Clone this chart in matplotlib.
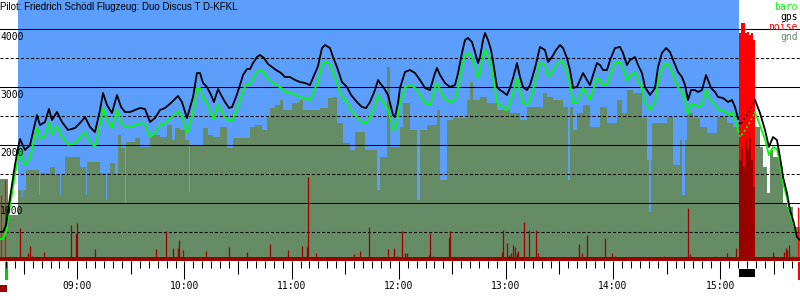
import matplotlib
matplotlib.use("Agg")
import matplotlib.pyplot as plt
import numpy as np
from matplotlib.patches import Rectangle
from matplotlib.ticker import FixedLocator, MultipleLocator, FuncFormatter

# ---------------- data (time = minutes after 08:00, altitude in m) ----------------
gps_t = [16.7, 18.4, 20.1, 21.7, 23.4, 25.1, 26.8, 27.9, 30.7, 33.5, 37.4, 39.1, 41.9, 44.1, 45.8,
         48.6, 51.4, 54.8, 58.7, 61.5, 64.3, 67.1, 69.9, 72.7, 74.4, 76.6, 79.4, 82.2, 84.5, 86.7,
         89.5, 92.3, 95.1, 97.9, 100.7, 103.5, 106.3, 109.1, 113.0, 116.4, 118.6, 121.4, 124.8, 127.0,
         128.7, 130.4, 132.6, 134.9, 136.5, 138.8, 140.5, 142.7, 145.0, 146.6, 148.9, 151.1, 152.8,
         155.0, 156.7, 158.4, 160.6, 162.3, 164.5, 166.8, 169.0, 171.3, 174.1, 176.3, 179.1, 181.9,
         184.7, 187.5, 190.3, 193.1, 194.8, 197.0, 198.7, 201.5, 203.2, 205.4, 208.2, 211.0, 213.3,
         216.6, 219.4, 221.7, 223.9, 226.7, 228.4, 229.5, 231.7, 234.0, 235.7, 236.8, 237.9, 239.6,
         240.7, 243.5, 246.3, 249.1, 251.9, 254.7, 257.5, 260.3, 261.4, 263.1, 265.9, 268.7, 271.5,
         273.2, 275.4, 277.1, 278.8, 281.0, 282.7, 284.4, 285.5, 287.2, 288.3, 290.0, 291.7, 293.3,
         295.0, 296.7, 298.4, 300.6, 302.3, 304.0, 306.2, 307.9, 309.6, 311.8, 313.5, 316.3, 319.1,
         321.9, 323.6, 325.8, 328.1, 330.3, 332.0, 334.2, 335.9, 337.6, 339.8, 341.5, 343.2, 345.4,
         347.1, 348.8, 351.0, 352.7, 354.4, 356.6, 358.3, 361.1, 363.9, 365.6, 367.8, 369.5, 372.3,
         374.0, 376.2, 377.9, 380.7, 383.5, 385.2, 387.4, 389.7, 391.9, 394.1, 396.4, 398.6, 400.3,
         402.0, 403.7, 405.9, 407.6, 409.8, 412.1, 413.2, 414.9, 417.1, 418.8, 421.6, 424.4, 426.6,
         428.3, 430.0, 431.1, 433.9, 436.7, 439.5, 442.3, 445.1, 447.3, 449.6, 451.8, 453.5, 455.2,
         457.4, 459.1, 461.3, 463.0, 464.7]
gps_alt = [505, 505, 626, 971, 1315, 1660, 1953, 2108, 1919, 2005, 2522, 2350, 2402, 2626, 2436,
           2574, 2402, 2264, 2298, 2384, 2488, 2315, 2229, 2608, 2902, 2695, 2557, 2867, 2660, 2574,
           2574, 2608, 2643, 2626, 2402, 2470, 2608, 2643, 2746, 2850, 2746, 2470, 2833, 3246,
           3246, 3074, 3005, 2867, 2746, 2970, 2867, 2746, 2643, 2660, 2833, 3039, 3212,
           3315, 3315, 3419, 3522, 3557, 3505, 3401, 3350, 3298, 3246, 3177, 3177, 3126,
           3091, 3074, 3039, 3246, 3367, 3677, 3729, 3677, 3522, 3350, 3091, 3005, 2867,
           2746, 2660, 2643, 2746, 2953, 3126, 3074, 2988, 2867, 2660, 2522, 2488, 2729,
           2988, 3264, 3298, 3246, 3126, 2988, 2953, 3246, 3332, 3212, 3074, 3005, 3039,
           3246, 3591, 3815, 3850, 3781, 3608, 3419, 3522, 3815, 3936, 3815, 3643, 3350,
           3005, 2953, 2919, 2867, 2988, 3160, 3419, 3177, 3005, 2953, 3039, 3332, 3695,
           3643, 3436, 3522, 3643, 3729, 3677, 3505, 3298, 2988, 3005, 3126, 3246, 3126,
           3039, 3212, 3419, 3384, 3298, 3298, 3470, 3677, 3695, 3591, 3384, 3470, 3522,
           3384, 3246, 3005, 2867, 2988, 3350, 3591, 3677, 3608, 3436, 3264, 3177, 3039,
           2781, 2953, 2953, 2919, 2953, 3212, 3126, 2988, 2919, 2833, 2815, 2746, 2781,
           2660, 2470, 2350, 2470, 2608, 2781, 2557, 2264, 1971, 2143, 2091, 1798, 1453,
           1177, 884, 660, 419, 367]
baro_alt = [385, 385, 500, 830, 1160, 1490, 1770, 1920, 1660, 1780, 2310, 2110, 2160, 2400, 2190,
            2330, 2150, 2010, 2040, 2130, 2230, 2060, 1970, 2350, 2640, 2430, 2300, 2610, 2400, 2310,
            2310, 2350, 2380, 2370, 2140, 2210, 2350, 2380, 2490, 2590, 2490, 2210, 2570, 2990,
            2990, 2810, 2740, 2540, 2450, 2700, 2600, 2480, 2420, 2420, 2570, 2780, 2950,
            3060, 3060, 3160, 3270, 3300, 3250, 3150, 3090, 3040, 2990, 2920, 2920, 2870,
            2830, 2810, 2780, 2980, 3100, 3400, 3440, 3400, 3250, 3080, 2830, 2740, 2600,
            2480, 2400, 2380, 2490, 2690, 2870, 2810, 2730, 2610, 2410, 2280, 2260, 2470,
            2730, 3000, 3040, 2990, 2870, 2730, 2690, 2990, 3070, 2950, 2810, 2740, 2780,
            2990, 3330, 3550, 3590, 3520, 3350, 3160, 3260, 3540, 3650, 3540, 3380, 3090,
            2740, 2690, 2660, 2600, 2730, 2900, 3160, 2920, 2740, 2690, 2780, 3070, 3430,
            3380, 3180, 3260, 3380, 3460, 3420, 3250, 3040, 2730, 2740, 2870, 2990, 2870,
            2780, 2950, 3160, 3120, 3040, 3040, 3210, 3420, 3430, 3330, 3120, 3210, 3260,
            3120, 2990, 2740, 2610, 2730, 3090, 3330, 3420, 3350, 3180, 3000, 2920, 2780,
            2540, 2700, 2700, 2660, 2700, 2960, 2870, 2760, 2700, 2620, 2600, 2530, 2570,
            2440, 2250, 2140, 2260, 2400, 2570, 2340, 2100, 1830, 1970, 1940, 1670, 1350,
            1100, 830, 620, 419, 367]

gnd_t = [16.7, 21.2, 26.8, 29.0, 29.6, 31.3, 38.5, 39.1, 44.7, 47.5, 50.3, 50.9, 53.1, 61.5, 64.9,
         65.4, 72.7, 76.1, 76.7, 78.3, 81.1, 82.8, 84.5, 86.7, 87.3, 92.3, 95.1, 100.7, 106.3, 110.2,
         113.0, 114.7, 117.5, 120.3, 122.5, 123.1, 130.4, 133.2, 136.0, 139.9, 143.8, 147.2, 156.7,
         159.5, 163.4, 166.2, 167.9, 170.7, 173.5, 175.2, 180.2, 183.0, 184.7, 186.4, 195.9, 200.4,
         203.2, 205.4, 208.8, 212.7, 215.5, 221.1, 227.8, 229.5, 233.4, 235.1, 240.7, 242.4, 246.3,
         250.2, 251.9, 255.8, 261.4, 263.1, 267.0, 270.4, 278.2, 279.9, 281.6, 285.5, 289.4, 295.0,
         302.3, 307.9, 311.8, 320.8, 323.0, 326.4, 332.0, 334.8, 335.9, 337.6, 339.8, 343.2, 347.1,
         352.7, 356.6, 362.2, 365.0, 367.8, 371.2, 376.2, 379.0, 380.1, 381.3, 381.8, 390.2, 393.6,
         397.5, 398.6, 400.3, 401.4, 404.8, 408.7, 412.6, 418.2, 423.8, 427.2, 430.5, 439.5,
         442.3, 444.0, 446.2, 447.9, 449.6, 453.5, 455.2, 457.4, 460.8, 464.7]
gnd_alt = [1420, 798, 1229, 1100, 1229, 1574, 1150, 1522, 1626, 1488, 1150, 1488, 1798, 1626, 1150,
           1712, 1522, 1050, 1522, 1695, 1522, 2177, 1953, 1000, 2057, 2126, 1971, 2177, 2143, 2350,
           2091, 2298, 2264, 2091, 1200, 2005, 2298, 2177, 2143, 2315, 1953, 2126, 2315,
           2350, 2264, 2488, 2643, 2695, 2781, 2608, 2729, 2746, 2781, 2608, 2643, 2815,
           2833, 2384, 2039, 1919, 2229, 1919, 1229, 1798, 3350, 1971, 2315, 2729, 2264,
           1057, 2264, 2350, 2608, 1402, 2436, 2470, 2781, 3091, 2781, 2833, 2729, 2608,
           2557, 2436, 2660, 2902, 2833, 2781, 2660, 1402, 2660, 2264, 2557, 2695, 2315,
           2660, 2384, 2781, 2557, 2953, 2902, 2470, 1746, 850, 1746, 2384, 2488, 1660,
           2091, 1143, 2091, 2557, 2470, 2315, 2212, 2488, 2384, 2315, 2264, 2315,
           1971, 1626, 1177, 1919, 1798, 1626, 1005, 936, 591, 591]

# engine noise level (dark red) - baseline and spikes
enl_base = 70
enl_t = [27.9, 32.4, 33.5, 34.6, 41.3, 56.5, 59.3, 59.8, 69.9, 104.1, 109.7, 113.6, 116.4, 117.0,
         119.2, 132.0, 145.0, 155.0, 168.0, 178.0, 185.8, 188.6, 189.2, 193.7, 214.9, 218.3, 223.3,
         234.0, 237.3, 239.0, 241.8, 243.5, 244.6, 257.0, 257.5, 259.2, 268.1, 268.7, 297.8, 298.4,
         300.6, 301.7, 302.9, 304.0, 305.1, 306.2, 306.8, 310.1, 312.9, 316.9, 318.0, 340.9, 342.6,
         345.4, 355.5, 359.4, 361.1, 388.5, 402.0, 403.1, 417.1, 423.8, 428.9, 449.6, 450.1, 455.7,
         456.9, 457.4, 458.5, 460.2]
enl_v = [574, 143, 264, 91, 160, 626, 488, 660, 212, 212, 522, 229, 229, 367,
         195, 180, 250, 160, 300, 200, 264, 246, 1453, 143, 126, 178, 591,
         212, 229, 91, 522, 143, 143, 109, 488, 91, 419, 522, 160, 540,
         315, 109, 143, 281, 246, 143, 178, 680, 540, 540, 143, 298, 143,
         453, 402, 143, 91, 91, 919, 126, 91, 143, 229, 160, 91, 160,
         229, 195, 281, 91]

# engine run (noise bars)
eng_t = [430.5, 431.7, 432.8, 433.9, 435.0, 436.1, 437.3, 438.4]
eng_noise = [3936, 4108, 4108, 3936, 3953, 3901, 3936, 3815]
eng_enl = [1746, 1971, 1626, 2091, 1919, 2143, 1746, 1281]
noise_spike_t = [17.3, 19.5, 463.6]
noise_spike_v = [1143, 1400, 936]

t_min, t_max = 16.7, 464.7
sky_start, sky_end = 26.8, 430.5
takeoff_t, landing_t = 19.5, 463.6
engine_start, engine_end = 430.5, 439.5

SKY = '#5c9efc'
GND = '#658c65'
DARK = '#9b0000'
MONO = 'DejaVu Sans Mono'

plt.rcParams['font.family'] = MONO

fig = plt.figure(figsize=(8, 3), dpi=100)
ax = fig.add_axes([0, 38.7 / 300, 1, 261.3 / 300])
ax.set_xlim(t_min, t_max)
ax.set_ylim(0, 4505)

ax.axvspan(sky_start, sky_end, color=SKY, lw=0, zorder=0)
ax.fill_between(gnd_t, gnd_alt, step='post', color=GND, lw=0, zorder=1)

ax.bar(eng_t, eng_noise, width=1.15, align='edge', color='#ff0000', lw=0, zorder=2)
ax.vlines(noise_spike_t, 0, noise_spike_v, color='#ff0000', lw=0.9, zorder=2)
ax.fill_between([t_min, t_max], 0, enl_base, color=DARK, lw=0, zorder=2.2)
ax.vlines(enl_t, 0, enl_v, color=DARK, lw=0.9, zorder=2.2)
ax.bar(eng_t, eng_enl, width=1.15, align='edge', color=DARK, lw=0, zorder=2.2)

# lines: solid outside the engine run, dotted inside
gt = np.array(gps_t)
inside = (gt >= engine_start - 0.6) & (gt <= engine_end)
outside_a = gt <= engine_start - 0.4
outside_b = gt >= engine_end
for alt, col, z in [(baro_alt, '#00ff00', 3), (gps_alt, '#000000', 3.1)]:
    a = np.array(alt, dtype=float)
    ax.plot(gt[outside_a], a[outside_a], color=col, lw=1.3, zorder=z)
    ax.plot(gt[outside_b], a[outside_b], color=col, lw=1.3, zorder=z)
    ax.plot(gt[inside], a[inside], color=col, lw=1.3, ls=(0, (1, 1.5)), zorder=z)

# grid
ax.set_yticks([1000, 2000, 3000, 4000])
ax.set_yticks([500, 1500, 2500, 3500], minor=True)
ax.grid(True, axis='y', which='major', color='black', lw=0.75, ls='-')
ax.grid(True, axis='y', which='minor', color='black', lw=0.75, ls=(0, (2.9, 2.0)))
ax.tick_params(axis='y', which='both', length=0, labelleft=False)
for v in [1000, 2000, 3000, 4000]:
    ax.annotate(str(v), xy=(0, v), xycoords=('axes fraction', 'data'), xytext=(0.2, -1.6),
                textcoords='offset points', ha='left', va='top', fontsize=7, family=MONO, zorder=5)

# x ticks
hours = [60, 120, 180, 240, 300, 360, 420]
half_hours = [30, 90, 150, 210, 270, 330, 390, 450]
ax.xaxis.set_major_locator(FixedLocator(hours))
ax.xaxis.set_major_formatter(FuncFormatter(lambda v, p: f"{8 + int(v // 60):02d}:{int(v % 60):02d}"))
ax.xaxis.set_minor_locator(MultipleLocator(5))
ax.tick_params(axis='x', which='major', length=12.9, width=0.75, pad=1.2, labelsize=7)
ax.tick_params(axis='x', which='minor', length=5.0, width=0.75)
sec = ax.secondary_xaxis('bottom')
sec.xaxis.set_major_locator(FixedLocator(half_hours))
sec.tick_params(axis='x', length=9.3, width=0.75, labelbottom=False)
for s in list(ax.spines.values()) + list(sec.spines.values()):
    s.set_visible(False)

# event markers below the axis
tr = ax.get_xaxis_transform()
ax.add_patch(Rectangle((takeoff_t, -0.0716), 1.7, 0.0689, transform=tr, clip_on=False,
                       color='#00cc00', lw=0))
ax.add_patch(Rectangle((t_min, -0.1175), 3.9, 0.0268, transform=tr, clip_on=False,
                       color=DARK, lw=0))
ax.add_patch(Rectangle((engine_start, -0.0601), engine_end - engine_start, 0.0306, transform=tr,
                       clip_on=False, color='black', lw=0))
ax.add_patch(Rectangle((landing_t, -0.0716), 1.1, 0.0689, transform=tr, clip_on=False,
                       color='#ff0000', lw=0))

# title and legend
fig.text(0.0, 1 - 7.5 / 300, 'Pilot: Friedrich Schödl Flugzeug: Duo Discus T D-KFKL',
         fontsize=7, family='Liberation Sans', ha='left', va='center')
for i, (lab, col) in enumerate([('baro', '#00ff00'), ('gps', '#000000'),
                                ('noise', '#ff0000'), ('gnd', GND)]):
    fig.text(0.997, 1 - (7 + 10 * i) / 300, lab, color=col, fontsize=7, family=MONO,
             ha='right', va='center')

fig.savefig('out.png', dpi=100)
